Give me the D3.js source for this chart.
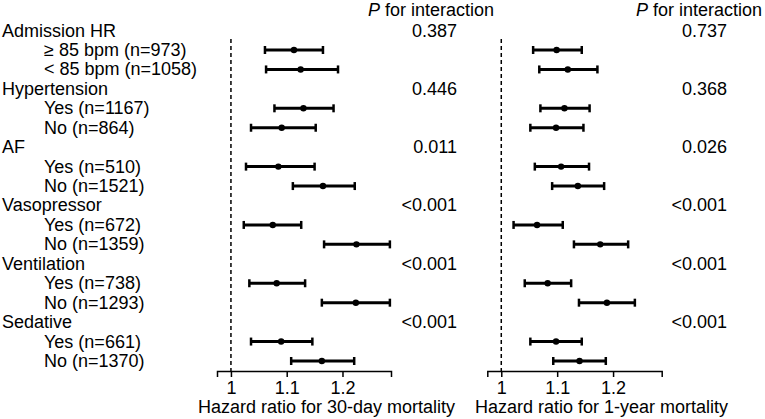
<!DOCTYPE html>
<html>
<head>
<meta charset="utf-8">
<script src="https://cdn.jsdelivr.net/npm/d3@7"></script>
<style>
  body { margin: 0; background: #fff; }
  svg { font-family: Arial, "Liberation Sans", Helvetica, sans-serif; }
  text { fill: #000; }
</style>
</head>
<body>
<svg id="chart"></svg>
<script>
// rows, top to bottom
const rowLabels = [
    "Admission HR", "\u2265 85 bpm (n=973)", "< 85 bpm (n=1058)",
    "Hypertension", "Yes (n=1167)", "No (n=864)",
    "AF", "Yes (n=510)", "No (n=1521)",
    "Vasopressor", "Yes (n=672)", "No (n=1359)",
    "Ventilation", "Yes (n=738)", "No (n=1293)",
    "Sedative", "Yes (n=661)", "No (n=1370)"
];
const isHeader = rowLabels.map((d, i) => i % 3 === 0);

// P for interaction, one per header row
const pMortality30 = ["0.387", "0.446", "0.011", "<0.001", "<0.001", "<0.001"];
const pMortality1y = ["0.737", "0.368", "0.026", "<0.001", "<0.001", "<0.001"];

// hazard ratios (null on header rows)
const hr30 = [null, 1.113, 1.125, null, 1.130, 1.091, null, 1.085, 1.165, null, 1.075, 1.225, null, 1.082, 1.224, null, 1.090, 1.163];
const lo30 = [null, 1.061, 1.063, null, 1.078, 1.036, null, 1.027, 1.111, null, 1.023, 1.167, null, 1.033, 1.163, null, 1.036, 1.108];
const hi30 = [null, 1.165, 1.192, null, 1.184, 1.152, null, 1.150, 1.222, null, 1.126, 1.285, null, 1.133, 1.285, null, 1.146, 1.221];

const hr1y = [null, 1.099, 1.119, null, 1.113, 1.098, null, 1.107, 1.137, null, 1.064, 1.177, null, 1.083, 1.189, null, 1.098, 1.140];
const lo1y = [null, 1.057, 1.068, null, 1.070, 1.052, null, 1.060, 1.091, null, 1.022, 1.130, null, 1.042, 1.139, null, 1.052, 1.093];
const hi1y = [null, 1.144, 1.172, null, 1.158, 1.147, null, 1.157, 1.184, null, 1.110, 1.227, null, 1.125, 1.239, null, 1.144, 1.187];

const xTicks = [1, 1.1, 1.2];
const xDomain = [0.975, 1.287];

const width = 765, height = 419;
const axisY = 371;
const fontSize = 18;

const svg = d3.select("#chart")
    .attr("width", width)
    .attr("height", height);

const yScale = d3.scalePoint()
    .domain(d3.range(rowLabels.length))
    .range([30.56, 361]);

// row labels
svg.append("g")
    .selectAll("text")
    .data(rowLabels)
    .join("text")
    .attr("x", (d, i) => isHeader[i] ? 2 : 44)
    .attr("y", (d, i) => yScale(i) + 6)
    .attr("font-size", fontSize)
    .text(d => d);

class ForestPanel {
    constructor(_config) {
        this.config = {
            range: _config.range,
            hr: _config.hr,
            lo: _config.lo,
            hi: _config.hi,
            pValues: _config.pValues,
            pRight: _config.pRight,
            pTitleX: _config.pTitleX,
            title: _config.title,
            titleX: _config.titleX
        };
        this.initVis();
    }

    initVis() {
        let vis = this;
        const c = vis.config;

        vis.xScale = d3.scaleLinear().domain(xDomain).range(c.range);
        vis.g = svg.append("g");

        // reference line at HR = 1
        vis.g.append("line")
            .attr("x1", vis.xScale(1))
            .attr("x2", vis.xScale(1))
            .attr("y1", 39)
            .attr("y2", axisY)
            .attr("stroke", "#000")
            .attr("stroke-width", 1.5)
            .attr("stroke-dasharray", "4,3");

        // axis
        vis.xAxis = d3.axisBottom(vis.xScale)
            .tickValues(xTicks)
            .tickFormat(d => d === 1 ? "1" : d3.format(".1f")(d))
            .tickSizeOuter(0)
            .tickSize(6)
            .tickPadding(4);

        vis.xAxisG = vis.g.append("g")
            .attr("transform", `translate(0,${axisY})`)
            .call(vis.xAxis);
        vis.xAxisG.selectAll("path, line")
            .attr("stroke", "#000")
            .attr("stroke-width", 1.5);
        vis.xAxisG.selectAll("text")
            .attr("font-size", fontSize)
            .attr("fill", "#000");
        vis.xAxisG.attr("font-family", null);

        vis.g.append("text")
            .attr("x", c.titleX)
            .attr("y", 413)
            .attr("text-anchor", "middle")
            .attr("font-size", fontSize)
            .text(c.title);

        // P for interaction column
        const pt = vis.g.append("text")
            .attr("x", c.pTitleX)
            .attr("y", 16)
            .attr("font-size", fontSize);
        pt.append("tspan").attr("font-style", "italic").text("P");
        pt.append("tspan").text(" for interaction");

        vis.g.append("g")
            .selectAll("text")
            .data(c.pValues)
            .join("text")
            .attr("x", c.pRight)
            .attr("y", (d, i) => yScale(i * 3) + 6)
            .attr("text-anchor", "end")
            .attr("font-size", fontSize)
            .text(d => d);

        vis.renderVis();
    }

    renderVis() {
        let vis = this;
        const c = vis.config;
        const rows = d3.range(rowLabels.length).filter(i => c.hr[i] !== null);

        const bars = vis.g.append("g")
            .selectAll("g")
            .data(rows)
            .join("g")
            .attr("transform", i => `translate(0,${yScale(i)})`);

        bars.append("line")
            .attr("x1", i => vis.xScale(c.lo[i]))
            .attr("x2", i => vis.xScale(c.hi[i]))
            .attr("stroke", "#000")
            .attr("stroke-width", 3);

        bars.selectAll(".cap")
            .data(i => [c.lo[i], c.hi[i]])
            .join("line")
            .attr("class", "cap")
            .attr("x1", d => vis.xScale(d))
            .attr("x2", d => vis.xScale(d))
            .attr("y1", -4)
            .attr("y2", 4)
            .attr("stroke", "#000")
            .attr("stroke-width", 2.5);

        bars.append("circle")
            .attr("cx", i => vis.xScale(c.hr[i]))
            .attr("r", 3.2)
            .attr("fill", "#000");
    }
}

const panel30 = new ForestPanel({
    range: [217, 391],
    hr: hr30, lo: lo30, hi: hi30,
    pValues: pMortality30,
    pRight: 457,
    pTitleX: 368,
    title: "Hazard ratio for 30-day mortality",
    titleX: 326.5
});

const panel1y = new ForestPanel({
    range: [487.3, 661.7],
    hr: hr1y, lo: lo1y, hi: hi1y,
    pValues: pMortality1y,
    pRight: 727,
    pTitleX: 636,
    title: "Hazard ratio for 1-year mortality",
    titleX: 601.5
});
</script>
</body>
</html>
